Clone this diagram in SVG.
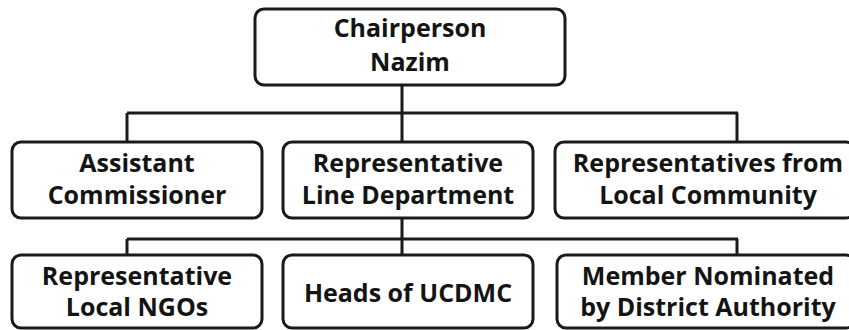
<svg xmlns="http://www.w3.org/2000/svg" width="849" height="330" viewBox="0 0 849 330">
  <style>
    .box { fill: #ffffff; stroke: #1a1a1a; stroke-width: 3; }
    .wire { fill: none; stroke: #1a1a1a; stroke-width: 3; }
    text { font-family: "Open Sans", Lato, "Liberation Sans", sans-serif; font-weight: bold; font-size: 25px; fill: #141414; text-anchor: middle; }
  </style>
  <rect width="849" height="330" fill="#ffffff"/>

  <g id="connectors">
    <path class="wire" d="M402 85 V113 M127 113 H738 M127 113 V142 M402 113 V142 M737 113 V142"/>
    <path class="wire" d="M402 218 V239 M127 239 H738 M127 239 V255 M402 239 V255 M737 239 V255"/>
  </g>

  <g id="chairperson">
    <rect class="box" x="255" y="9" width="310" height="76" rx="9"/>
    <text x="410" y="37">Chairperson</text>
    <text x="410" y="71">Nazim</text>
  </g>

  <g id="assistant-commissioner">
    <rect class="box" x="12" y="142" width="250" height="76" rx="9"/>
    <text x="137" y="172">Assistant</text>
    <text x="137" y="204">Commissioner</text>
  </g>

  <g id="line-department">
    <rect class="box" x="283" y="142" width="250" height="76" rx="9"/>
    <text x="408" y="172">Representative</text>
    <text x="408" y="204">Line Department</text>
  </g>

  <g id="local-community">
    <rect class="box" x="555" y="142" width="300" height="76" rx="9"/>
    <text x="708" y="172">Representatives from</text>
    <text x="708" y="204">Local Community</text>
  </g>

  <g id="local-ngos">
    <rect class="box" x="12" y="255" width="250" height="73" rx="9"/>
    <text x="137" y="285">Representative</text>
    <text x="137" y="316">Local NGOs</text>
  </g>

  <g id="ucdmc-heads">
    <rect class="box" x="283" y="255" width="250" height="73" rx="9"/>
    <text x="408" y="302">Heads of UCDMC</text>
  </g>

  <g id="district-nominee">
    <rect class="box" x="557" y="255" width="298" height="73" rx="9"/>
    <text x="708" y="285">Member Nominated</text>
    <text x="708" y="316">by District Authority</text>
  </g>
</svg>
